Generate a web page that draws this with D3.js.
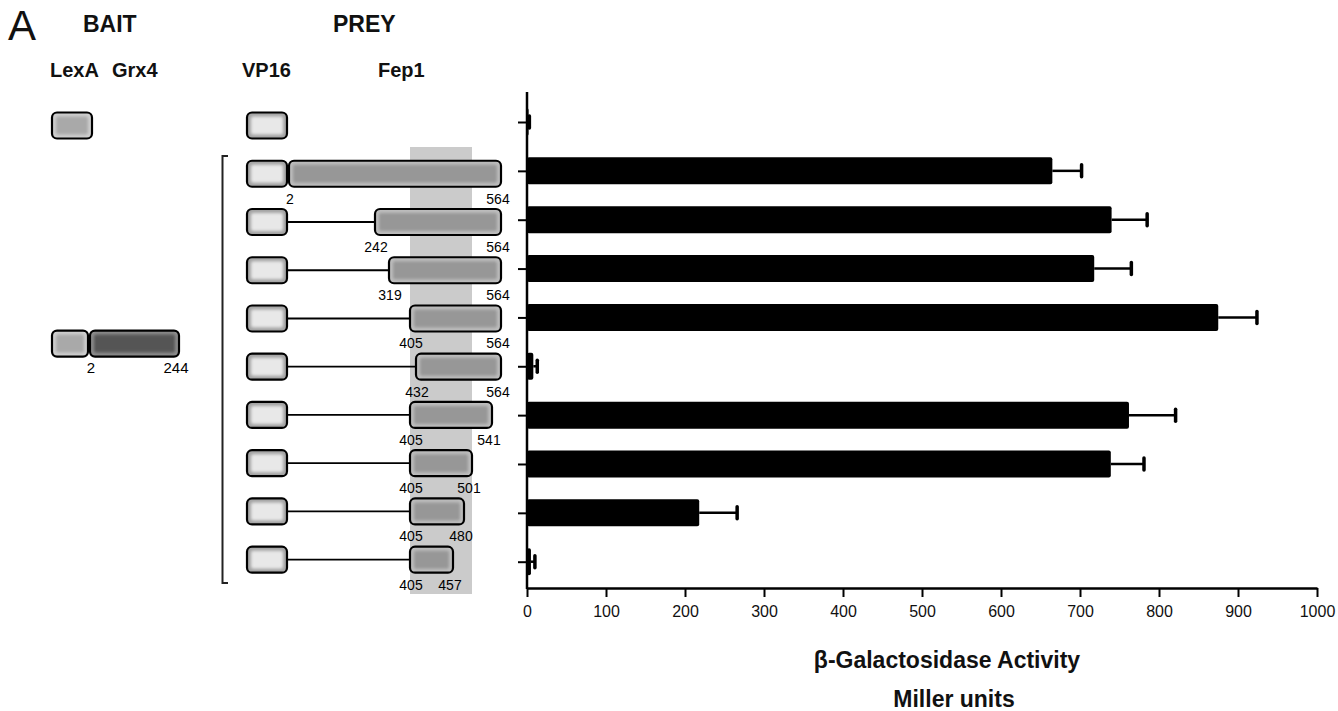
<!DOCTYPE html>
<html>
<head>
<meta charset="utf-8">
<script src="https://cdn.jsdelivr.net/npm/d3@7"></script>
<style>
  html, body { margin: 0; padding: 0; background: #fff; }
  svg { display: block; font-family: "Liberation Sans", Arial, sans-serif; }
</style>
</head>
<body>
<svg id="chart" width="1338" height="711"></svg>
<script>
// ---------------- data ----------------
const rows = ["VP16", "VP16-Fep1(2-564)", "VP16-Fep1(242-564)", "VP16-Fep1(319-564)", "VP16-Fep1(405-564)",
              "VP16-Fep1(432-564)", "VP16-Fep1(405-541)", "VP16-Fep1(405-501)", "VP16-Fep1(405-480)", "VP16-Fep1(405-457)"];
const preyStart = [null, 2, 242, 319, 405, 432, 405, 405, 405, 405];
const preyEnd   = [null, 564, 564, 564, 564, 564, 541, 501, 480, 457];
const activity  = [2, 665, 740, 718, 875, 8, 762, 739, 218, 5];
const activityErr = [1, 37, 45, 47, 49, 5, 59, 42, 48, 5];
const xTicks = [0, 100, 200, 300, 400, 500, 600, 700, 800, 900, 1000];
const grx4Range = [2, 244];
const minimalDomain = [405, 501];
// drawing positions of residue numbers along the (not-to-scale) schematic
const residueMarks = [2, 242, 319, 405, 432, 457, 480, 501, 541, 564];
const residuePx    = [289, 375, 389, 410, 416, 453, 464, 472, 492, 501];

// ---------------- setup ----------------
const svg = d3.select("#chart");
const defs = svg.append("defs");
defs.append("filter").attr("id", "soft").attr("x", "-10%").attr("y", "-30%").attr("width", "120%").attr("height", "160%")
  .append("feGaussianBlur").attr("stdDeviation", 1.8);

const x = d3.scaleLinear().domain([0, 1000]).range([527, 1317]);
const yBar = d3.scalePoint().domain(d3.range(rows.length)).range([122, 561.7]);
const yDia = d3.scalePoint().domain(d3.range(rows.length)).range([125.5, 559.7]);
const res = d3.scaleLinear().domain(residueMarks).range(residuePx);
const grx = d3.scaleLinear().domain(grx4Range).range([90, 179]);

const barH = 27, boxH = 26;

function box(g, x0, x1, yc, edge, center) {
  g.append("rect").attr("x", x0).attr("y", yc - boxH / 2).attr("width", x1 - x0).attr("height", boxH)
    .attr("rx", 5).attr("fill", edge);
  g.append("rect").attr("x", x0 + 4).attr("y", yc - boxH / 2 + 4).attr("width", Math.max(0, x1 - x0 - 8)).attr("height", boxH - 8)
    .attr("rx", 2).attr("fill", center).attr("filter", "url(#soft)");
  g.append("rect").attr("x", x0).attr("y", yc - boxH / 2).attr("width", x1 - x0).attr("height", boxH)
    .attr("rx", 5).attr("fill", "none").attr("stroke", "#000").attr("stroke-width", 2.2);
}

// ---------------- header ----------------
svg.append("text").attr("x", 8).attr("y", 40).attr("font-size", 42).attr("fill", "#111").text("A");
const hdr = [["BAIT", 83, 32, 23], ["PREY", 333, 32, 23], ["LexA", 50, 77, 20], ["Grx4", 112, 77, 20], ["VP16", 242, 77, 20], ["Fep1", 378, 77, 20]];
svg.selectAll("text.hdr").data(hdr).join("text").attr("class", "hdr")
  .attr("x", d => d[1]).attr("y", d => d[2]).attr("font-size", d => d[3]).attr("font-weight", "bold").attr("fill", "#111")
  .text(d => d[0]);

// ---------------- shaded minimal domain ----------------
svg.append("rect").attr("x", res(minimalDomain[0])).attr("y", 147)
  .attr("width", res(minimalDomain[1]) - res(minimalDomain[0])).attr("height", 447).attr("fill", "#cbcbcb");

// ---------------- bracket ----------------
svg.append("path").attr("d", "M228,156 H222.5 V583 H228").attr("fill", "none").attr("stroke", "#222").attr("stroke-width", 2);

// ---------------- bait ----------------
const bait = svg.append("g");
box(bait, 52, 92, yDia(0), "#cfcfcf", "#a9a9a9");
const baitY = (yDia(4) + yDia(5)) / 2 + 1;
box(bait, 52, 88, baitY, "#cfcfcf", "#a9a9a9");
box(bait, grx(grx4Range[0]), grx(grx4Range[1]), baitY, "#8c8c8c", "#555555");
bait.append("text").attr("x", grx(grx4Range[0]) + 1).attr("y", baitY + 29).attr("text-anchor", "middle").attr("font-size", 15).text(grx4Range[0]);
bait.append("text").attr("x", grx(grx4Range[1]) - 3).attr("y", baitY + 29).attr("text-anchor", "middle").attr("font-size", 15).text(grx4Range[1]);

// ---------------- prey ----------------
const prey = svg.append("g");
rows.forEach((r, i) => {
  const yc = yDia(i);
  if (preyStart[i] !== null) {
    const xs = res(preyStart[i]), xe = res(preyEnd[i]);
    if (xs > 290) prey.append("line").attr("x1", 287).attr("x2", xs).attr("y1", yc).attr("y2", yc)
      .attr("stroke", "#000").attr("stroke-width", 1.8);
    box(prey, xs, xe, yc, "#bdbdbd", "#979797");
    prey.append("text").attr("x", xs + 1).attr("y", yc + 30).attr("text-anchor", "middle").attr("font-size", 14).text(preyStart[i]);
    prey.append("text").attr("x", xe - 3).attr("y", yc + 30).attr("text-anchor", "middle").attr("font-size", 14).text(preyEnd[i]);
  }
  box(prey, 247, 287, yc, "#a3a3a3", "#e8e8e8");
});

// ---------------- bars ----------------
const bars = svg.append("g");
bars.selectAll("line.err").data(rows).join("line").attr("class", "err")
  .attr("x1", (d, i) => x(activity[i])).attr("x2", (d, i) => x(activity[i] + activityErr[i]))
  .attr("y1", (d, i) => yBar(i)).attr("y2", (d, i) => yBar(i))
  .attr("stroke", "#000").attr("stroke-width", 2.5);
bars.selectAll("line.cap").data(rows).join("line").attr("class", "cap")
  .attr("x1", (d, i) => x(activity[i] + activityErr[i])).attr("x2", (d, i) => x(activity[i] + activityErr[i]))
  .attr("y1", (d, i) => yBar(i) - 6).attr("y2", (d, i) => yBar(i) + 6)
  .attr("stroke", "#000").attr("stroke-width", 3.5).attr("stroke-linecap", "round");
bars.selectAll("rect.bar").data(rows).join("rect").attr("class", "bar")
  .attr("x", x(0)).attr("y", (d, i) => yBar(i) - barH / 2)
  .attr("width", (d, i) => x(activity[i]) - x(0)).attr("height", barH)
  .attr("rx", 2).attr("fill", "#000");

// ---------------- axes ----------------
const axisY = 588;
const xAxis = svg.append("g").attr("transform", `translate(0,${axisY})`)
  .call(d3.axisBottom(x).tickValues(xTicks).tickFormat(d3.format("d")).tickSize(9).tickSizeOuter(0).tickPadding(9));
xAxis.select(".domain").attr("stroke", "#000").attr("stroke-width", 2.5);
xAxis.selectAll(".tick line").attr("stroke", "#000").attr("stroke-width", 2);
xAxis.selectAll(".tick text").attr("font-size", 16).attr("fill", "#111").attr("font-family", "Liberation Sans, Arial, sans-serif");

const yAxis = svg.append("g").attr("transform", `translate(${x(0)},0)`)
  .call(d3.axisLeft(yBar).tickSize(9).tickSizeOuter(0).tickFormat(""));
yAxis.select(".domain").remove();
yAxis.selectAll(".tick line").attr("stroke", "#000").attr("stroke-width", 2);
svg.append("line").attr("x1", x(0)).attr("x2", x(0)).attr("y1", 92).attr("y2", axisY + 1)
  .attr("stroke", "#000").attr("stroke-width", 2.5);

// ---------------- axis title ----------------
svg.append("text").attr("x", 947).attr("y", 668).attr("text-anchor", "middle").attr("font-size", 23).attr("font-weight", "bold").attr("fill", "#111")
  .text("β-Galactosidase Activity");
svg.append("text").attr("x", 954).attr("y", 707).attr("text-anchor", "middle").attr("font-size", 23).attr("font-weight", "bold").attr("fill", "#111")
  .text("Miller units");
</script>
</body>
</html>
